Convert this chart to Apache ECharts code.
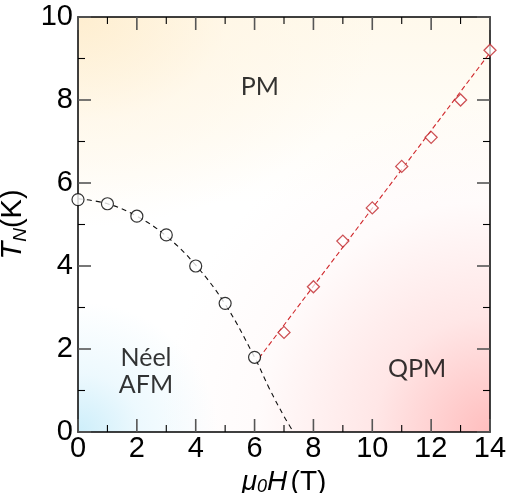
<!DOCTYPE html>
<html>
<head>
<meta charset="utf-8">
<script src="https://cdn.jsdelivr.net/npm/echarts@6/dist/echarts.min.js"></script>
<style>
html,body{margin:0;padding:0;background:#fff;}
#wrap{position:relative;width:508px;height:493px;}
#bg{position:absolute;left:78px;top:17px;width:412px;height:415px;
  background:
   radial-gradient(ellipse 140px 130px at 0% 100%, rgba(205,238,250,1) 0%, rgba(225,245,253,0.6) 45%, rgba(255,255,255,0) 100%),
   radial-gradient(ellipse 330px 330px at 100% 100%, rgba(255,190,190,1) 0%, rgba(255,214,214,0.6) 35%, rgba(255,234,234,0.2) 70%, rgba(255,255,255,0) 100%),
   radial-gradient(ellipse 300px 210px at 0% 0%, rgba(254,238,208,1) 0%, rgba(255,245,226,0.5) 50%, rgba(255,255,255,0) 100%),
   linear-gradient(to bottom, rgba(255,249,236,1) 0%, rgba(255,255,255,0) 45%),
   #fff;}
#c{position:absolute;left:0;top:0;width:508px;height:493px;}
</style>
</head>
<body>
<div id="wrap"><div id="bg"></div><div id="c"></div></div>
<script>
// Néel AFM transition points (mu0H in T, T_N in K)
var afmH = [0, 1, 2, 3, 4, 5, 6];
var afmT = [5.6, 5.5, 5.2, 4.75, 4.0, 3.1, 1.8];
// dashed guide curve through the AFM points
var afmCurveH = [0, 1, 2, 3, 4, 5, 6, 6.5, 7, 7.32];
var afmCurveT = [5.62, 5.5, 5.2, 4.72, 4.02, 3.08, 1.8, 1.05, 0.38, 0];
// QPM transition points
var qpmH = [7, 8, 9, 10, 11, 12, 13, 14];
var qpmT = [2.4, 3.5, 4.6, 5.4, 6.4, 7.1, 8.0, 9.2];
// dashed straight guide line through the QPM points
var qpmLineH = [6.15, 14.0];
var qpmLineT = [1.78, 9.14];
// region labels
var regionText = ['PM', 'Néel', 'AFM', 'QPM'];
var regionH = [6.18, 2.31, 2.31, 11.52];
var regionT = [8.31, 1.78, 1.13, 1.52];
// tick values (major carry labels)
var xMajorTicks = [0, 2, 4, 6, 8, 10, 12, 14];
var xMinorTicks = [1, 3, 5, 7, 9, 11, 13];
var yMajorTicks = [0, 2, 4, 6, 8, 10];
var yMinorTicks = [1, 3, 5, 7, 9];

var X_MIN = 0, X_MAX = 14, Y_MIN = 0, Y_MAX = 10;

function zip(a, b) { return a.map(function (v, i) { return [v, b[i]]; }); }

// tick items: [value, side(0 bottom,1 top,2 left,3 right), major(1/0)]
var tickData = [];
xMajorTicks.forEach(function (v) { tickData.push([v, 0, 1], [v, 1, 1]); });
xMinorTicks.forEach(function (v) { tickData.push([v, 0, 0], [v, 1, 0]); });
yMajorTicks.forEach(function (v) { tickData.push([v, 2, 1], [v, 3, 1]); });
yMinorTicks.forEach(function (v) { tickData.push([v, 2, 0], [v, 3, 0]); });

var numFont = "'Liberation Sans Narrow', 'Liberation Sans', Arial, sans-serif";
var regFont = "Lato, 'Open Sans', sans-serif";

var chart = echarts.init(document.getElementById('c'));

function ax(extra) {
  return Object.assign({
    type: 'value',
    axisLine: {show: true, onZero: false, lineStyle: {color: '#000', width: 1.5}},
    axisTick: {show: false},
    minorTick: {show: false},
    splitLine: {show: false},
    minorSplitLine: {show: false}
  }, extra);
}

function renderTick(params, api) {
  var v = api.value(0), side = api.value(1), major = api.value(2);
  var len = major ? 13 : 7;
  var p, x1, y1, x2, y2;
  if (side === 0) { p = api.coord([v, Y_MIN]); x1 = x2 = p[0]; y1 = p[1]; y2 = p[1] - len; }
  else if (side === 1) { p = api.coord([v, Y_MAX]); x1 = x2 = p[0]; y1 = p[1]; y2 = p[1] + len; }
  else if (side === 2) { p = api.coord([X_MIN, v]); y1 = y2 = p[1]; x1 = p[0]; x2 = p[0] + len; }
  else { p = api.coord([X_MAX, v]); y1 = y2 = p[1]; x1 = p[0]; x2 = p[0] - len; }
  return {
    type: 'line', shape: {x1: x1, y1: y1, x2: x2, y2: y2},
    style: {stroke: major ? '#555' : '#000', lineWidth: major ? 1.6 : 1.1}
  };
}

chart.setOption({
  animation: false,
  grid: {left: 78, top: 17, width: 412, height: 415, outerBoundsMode: 'none'},
  xAxis: [
    ax({
      position: 'bottom', min: X_MIN, max: X_MAX, interval: 2,
      axisLabel: {color: '#000', fontSize: 29, fontFamily: numFont, margin: 2},
      name: '{i|μ}{s|0}{i|H} {n|(T)}', nameLocation: 'middle', nameGap: 34,
      nameTextStyle: {color: '#000', rich: {
        i: {fontSize: 28, fontStyle: 'italic', fontFamily: numFont, color: '#000'},
        s: {fontSize: 18, fontStyle: 'italic', fontFamily: numFont, color: '#000', padding: [10, 0, 0, 0]},
        n: {fontSize: 28, fontFamily: numFont, color: '#000'}
      }}
    }),
    ax({position: 'top', min: X_MIN, max: X_MAX, interval: 2, axisLabel: {show: false}})
  ],
  yAxis: [
    ax({
      position: 'left', min: Y_MIN, max: Y_MAX, interval: 2,
      axisLabel: {color: '#000', fontSize: 29, fontFamily: numFont, margin: 5},
      name: '{i|T}{s|N}{n|(K)}', nameLocation: 'middle', nameGap: 36, nameRotate: 90,
      nameTextStyle: {color: '#000', rich: {
        i: {fontSize: 29, fontStyle: 'italic', fontFamily: "'Liberation Sans', Arial, sans-serif", color: '#000'},
        s: {fontSize: 19, fontStyle: 'italic', fontFamily: "'Liberation Sans', Arial, sans-serif", color: '#000', padding: [14, 0, 0, 0]},
        n: {fontSize: 29, fontFamily: "'Liberation Sans', Arial, sans-serif", color: '#000'}
      }}
    }),
    ax({position: 'right', min: Y_MIN, max: Y_MAX, interval: 2, axisLabel: {show: false}})
  ],
  series: [
    {
      type: 'custom', renderItem: renderTick, data: tickData, clip: false, silent: true, z: 1,
      encode: {x: -1, y: -1}
    },
    {
      type: 'line', smooth: 0.4, showSymbol: false, symbol: 'none',
      data: zip(afmCurveH, afmCurveT), z: 2,
      lineStyle: {color: '#111', width: 1.1, type: [5, 4]}
    },
    {
      type: 'line', showSymbol: false, symbol: 'none',
      data: zip(qpmLineH, qpmLineT), z: 2,
      lineStyle: {color: '#d0282c', width: 1.1, type: [5, 3]}
    },
    {
      type: 'scatter', symbol: 'circle', symbolSize: 12,
      data: zip(afmH, afmT), z: 3, clip: false,
      itemStyle: {color: '#fff', borderColor: '#000', borderWidth: 1.2}
    },
    {
      type: 'scatter', symbol: 'diamond', symbolSize: 12,
      data: zip(qpmH, qpmT), z: 3, clip: false,
      itemStyle: {color: 'rgba(255,255,255,0.9)', borderColor: '#c0262a', borderWidth: 1.3}
    },
    {
      type: 'scatter', symbolSize: 0, silent: true, z: 4,
      data: regionText.map(function (t, i) { return {value: [regionH[i], regionT[i]], name: t}; }),
      label: {show: true, position: 'inside', formatter: '{b}', color: '#000', fontSize: 25, fontFamily: regFont}
    }
  ]
});
</script>
</body>
</html>
